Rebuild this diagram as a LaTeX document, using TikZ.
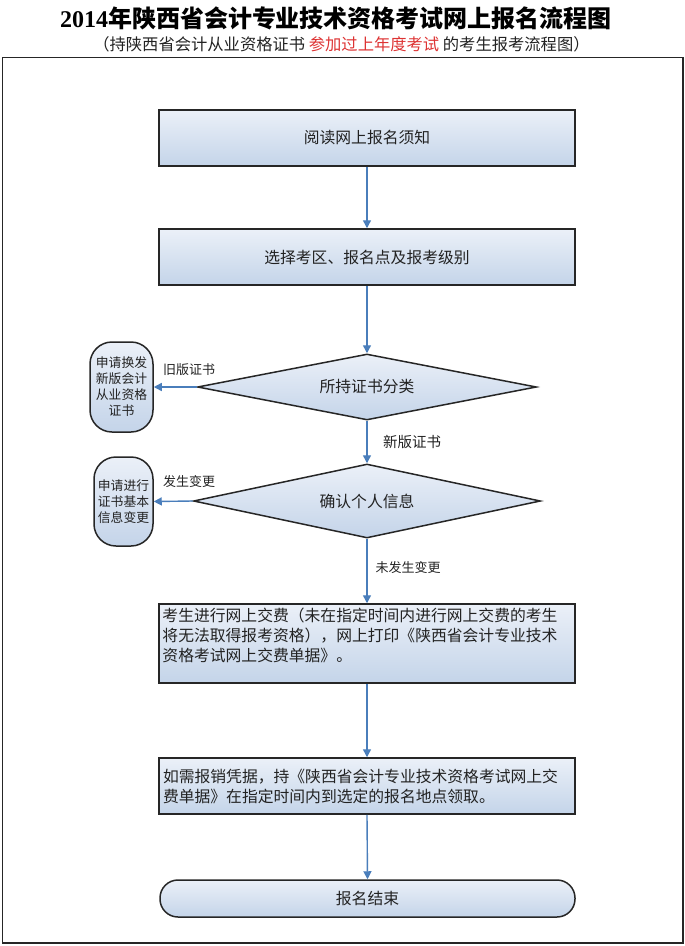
\documentclass[tikz,border=0pt]{standalone}
\usepackage{fontspec}
\setmainfont{Noto Sans CJK SC}
\newfontfamily\titlenum{Liberation Serif}
\usetikzlibrary{shapes.geometric,arrows.meta,calc}
\definecolor{arrowblue}{HTML}{4A7EBB}
\definecolor{boxtop}{HTML}{EBF0F8}
\definecolor{boxbot}{HTML}{C4D4E9}
\definecolor{redtxt}{HTML}{DD3333}
\definecolor{txt}{HTML}{222222}
\begin{document}
\begin{tikzpicture}[x=1pt,y=-1pt,
  box/.style={draw=black!85, line width=1.5pt, top color=boxtop, bottom color=boxbot, inner sep=0pt, text=txt,
    font=\fontsize{15.8}{20}\selectfont},
  rbox/.style={box, minimum width=416pt, minimum height=56pt},
  dia/.style={box, diamond, shape aspect=6, inner sep=0pt},
  side/.style={box, rounded corners=22pt, align=center, font=\fontsize{12.8}{16}\selectfont},
  lbl/.style={inner sep=0pt, text=txt, font=\fontsize{13}{13}\selectfont},
  btext/.style={inner sep=0pt, text=txt, align=left, font=\fontsize{15.8}{20}\selectfont},
  arr/.style={draw=arrowblue, line width=1.4pt, -{Triangle[length=8pt,width=8pt]}}
]
\useasboundingbox (0,0) rectangle (685,946);
\draw[line width=1.8pt, black!85] (2.5,57.5) rectangle (683,943);

\node[inner sep=0pt, font=\fontsize{24}{24}\selectfont\bfseries] (title) at (336,18)
  {{\titlenum\bfseries 2014}年陕西省会计专业技术资格考试网上报名流程图};
\node[inner sep=0pt, text=txt, font=\fontsize{16.3}{17}\selectfont] (subtitle) at (341.5,44)
  {（持陕西省会计从业资格证书 \textcolor{redtxt}{参加过上年度考试} 的考生报考流程图）};

\node[rbox] (b1) at (367,138) {阅读网上报名须知};
\node[rbox] (b2) at (367,257) {选择考区、报名点及报考级别};
\node[dia, minimum width=339pt, minimum height=66pt] (d1) at (367,387) {所持证书分类};
\node[dia, minimum width=347pt, minimum height=74pt] (d2) at (367,501) {确认个人信息};
\node[side, minimum width=63pt, minimum height=90pt] (s1) at (121.5,387) {申请换发\\新版会计\\从业资格\\证书};
\node[side, minimum width=59pt, minimum height=89pt] (s2) at (123.5,501.5) {申请进行\\证书基本\\信息变更};
\node[box, minimum width=416pt, minimum height=79pt] (b3) at (367,643.5) {};
\node[btext, anchor=north west] (t3) at ($(b3.north west)+(4,5)$)
  {考生进行网上交费（未在指定时间内进行网上交费的考生\\将无法取得报考资格），网上打印《陕西省会计专业技术\\资格考试网上交费单据》。};
\node[box, minimum width=416pt, minimum height=56pt, align=left, text width=408pt, inner xsep=4pt] (b4) at (367,786)
  {如需报销凭据，持《陕西省会计专业技术资格考试网上交\\费单据》在指定时间内到选定的报名地点领取。};
\node[box, rounded corners=18pt, minimum width=415pt, minimum height=37pt] (e) at (367.5,898.5) {报名结束};

\draw[arr] (b1.south) -- (b2.north);
\draw[arr] (b2.south) -- (d1.north);
\draw[arr] (d1.south) -- (d2.north);
\draw[arr] (d2.south) -- (b3.north);
\draw[arr] (b3.south) -- (b4.north);
\draw[arr] (b4.south) -- (e.north);
\draw[arr] (d1.west) -- (s1.east);
\draw[arr] (d2.west) -- (s2.east);

\node[lbl] (l1) at (189,370) {旧版证书};
\node[lbl] (l2) at (189,482) {发生变更};
\node[lbl, font=\fontsize{14.5}{14.5}\selectfont] (l3) at (412,442) {新版证书};
\node[lbl] (l4) at (408,568) {未发生变更};
\end{tikzpicture}
\end{document}
